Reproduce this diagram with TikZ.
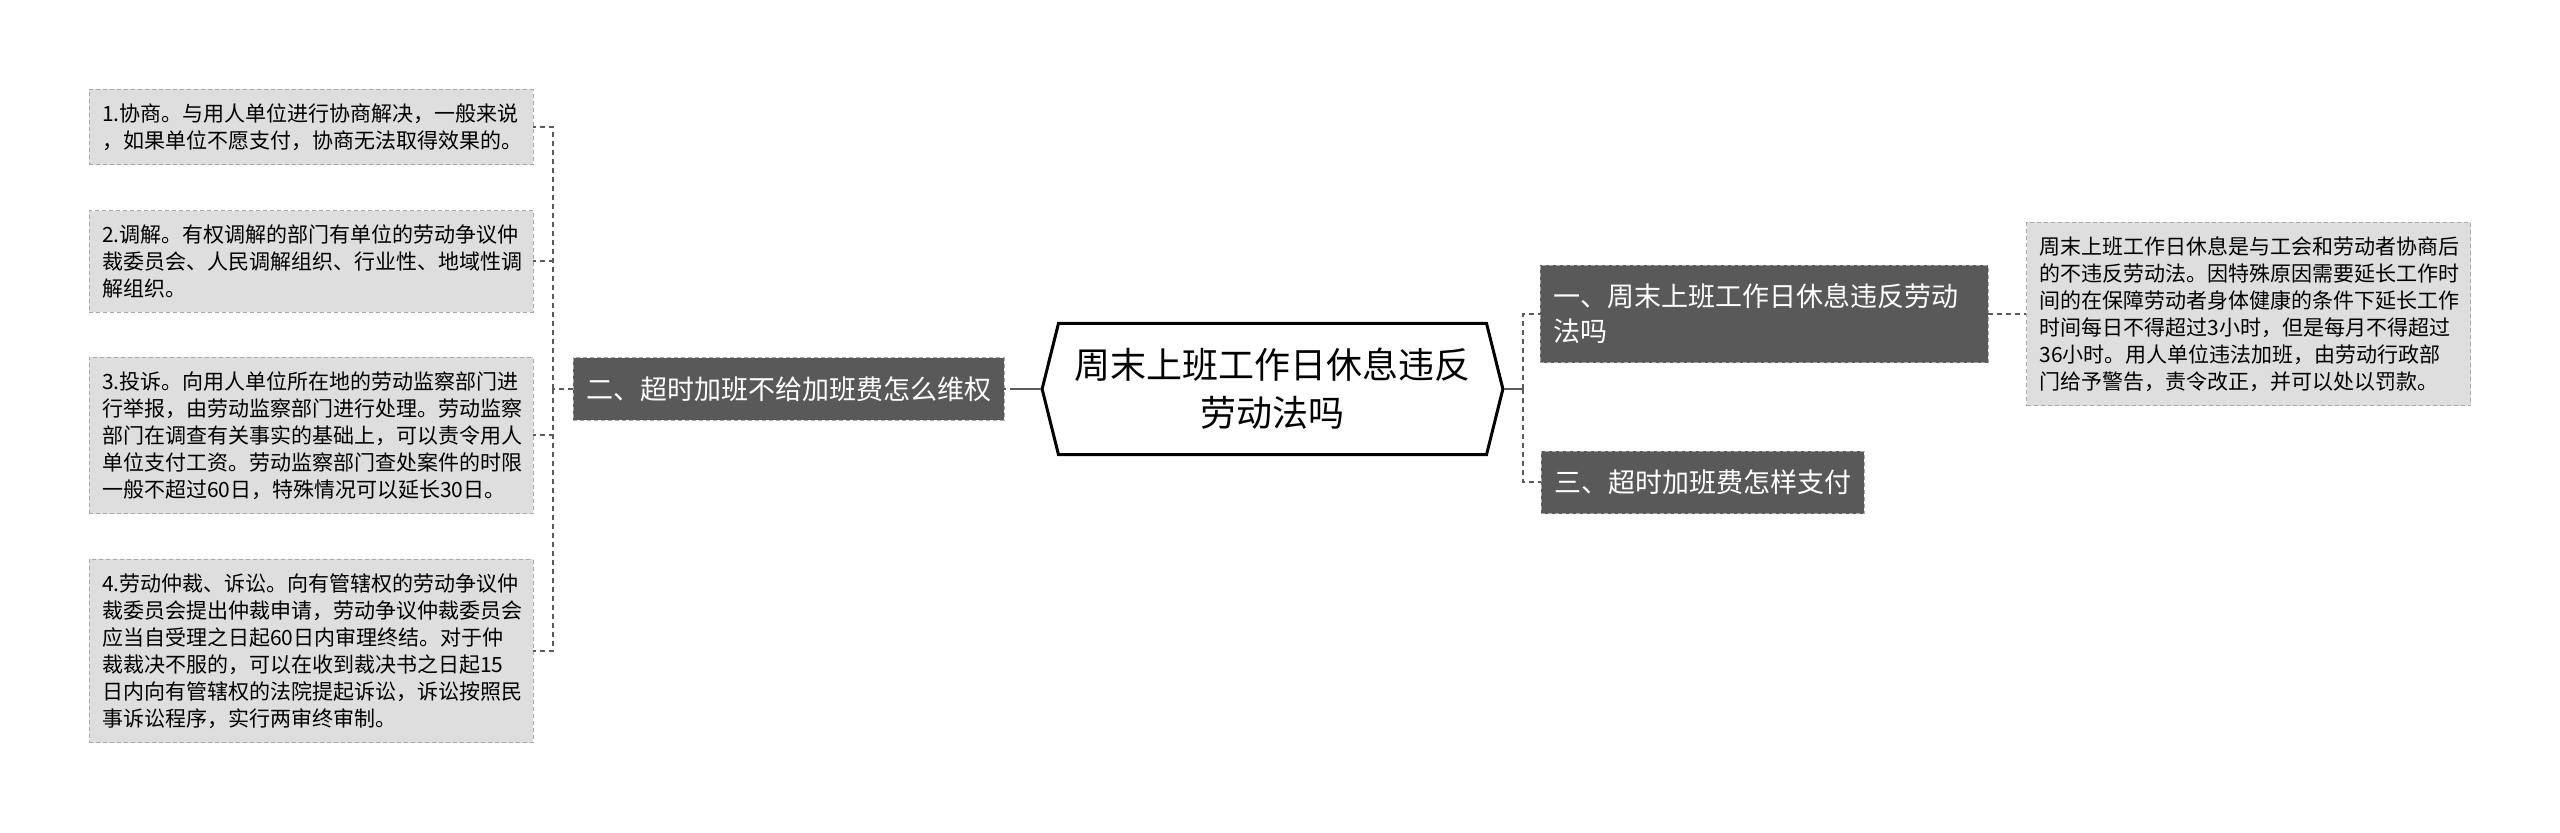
\documentclass[tikz,border=0pt]{standalone}
\usepackage{fontspec}
\setmainfont{Noto Sans CJK SC}
\usepackage{tikz}
\usetikzlibrary{shapes.symbols}
\definecolor{darkbox}{HTML}{595959}
\definecolor{leafbox}{HTML}{DEDEDE}
\definecolor{leafline}{HTML}{A8A8A8}
\definecolor{linkgray}{HTML}{5A5A5A}

\begin{document}
\begin{tikzpicture}[x=0.5pt, y=-0.5pt,
    root/.style = {draw=black, line width=1.5pt, fill=white, signal, signal to=west and east,
        signal pointer angle=152, align=center, inner xsep=8pt, inner ysep=12.5pt,
        font=\fontsize{18pt}{24pt}\selectfont},
    topic/.style = {draw=leafline, dashed, dash pattern=on 2pt off 1.5pt, fill=darkbox, text=white,
        align=left, inner xsep=6.5pt, inner ysep=9.3pt, font=\fontsize{13.5pt}{17.5pt}\selectfont},
    leaf/.style = {draw=leafline, dashed, dash pattern=on 2pt off 1.5pt, fill=leafbox, text=black,
        align=left, text width=209pt, inner xsep=6.5pt, inner ysep=7pt,
        font=\fontsize{10.5pt}{13.5pt}\selectfont},
    solidlink/.style = {draw=linkgray, line width=1pt},
    dashlink/.style = {draw=linkgray, line width=1pt, dash pattern=on 2.5pt off 2pt}]
    \useasboundingbox (0,0) rectangle (2560,833);

    \node[root] (R) at (1272.5,389) {周末上班工作日休息违反\\劳动法吗};

    \node[topic] (T2) at (788.5,389) {二、超时加班不给加班费怎么维权};
    \node[topic, text width=211pt] (T1) at (1764,314) {一、周末上班工作日休息违反劳动\\法吗};
    \node[topic] (T3) at (1702.5,482.5) {三、超时加班费怎样支付};

    \node[leaf] (L1) at (311,127) {1.协商。与用人单位进行协商解决，一般来说\\，如果单位不愿支付，协商无法取得效果的。};
    \node[leaf] (L2) at (311,261.5) {2.调解。有权调解的部门有单位的劳动争议仲\\裁委员会、人民调解组织、行业性、地域性调\\解组织。};
    \node[leaf] (L3) at (311,435.5) {3.投诉。向用人单位所在地的劳动监察部门进\\行举报，由劳动监察部门进行处理。劳动监察\\部门在调查有关事实的基础上，可以责令用人\\单位支付工资。劳动监察部门查处案件的时限\\一般不超过60日，特殊情况可以延长30日。};
    \node[leaf] (L4) at (311,651) {4.劳动仲裁、诉讼。向有管辖权的劳动争议仲\\裁委员会提出仲裁申请，劳动争议仲裁委员会\\应当自受理之日起60日内审理终结。对于仲\\裁裁决不服的，可以在收到裁决书之日起15\\日内向有管辖权的法院提起诉讼，诉讼按照民\\事诉讼程序，实行两审终审制。};
    \node[leaf] (D1) at (2248.5,314) {周末上班工作日休息是与工会和劳动者协商后\\的不违反劳动法。因特殊原因需要延长工作时\\间的在保障劳动者身体健康的条件下延长工作\\时间每日不得超过3小时，但是每月不得超过\\36小时。用人单位违法加班，由劳动行政部\\门给予警告，责令改正，并可以处以罚款。};

    % root to the two sides
    \draw[solidlink] (R.west) -- ++(-26,0) coordinate (lj);
    \draw[dashlink] (lj) -- (T2.east);
    \draw[solidlink] (R.east) -- ++(19,0) coordinate (rj);
    \draw[dashlink] (rj) |- (T1.west);
    \draw[dashlink] (rj) |- (T3.west);

    % left branch
    \draw[dashlink] (T2.west) -- ++(-20,0) coordinate (lb);
    \foreach \leafname in {L1,L2,L3,L4}
        \draw[dashlink] (lb) |- (\leafname.east);

    % right detail
    \draw[dashlink] (T1.east) -- (D1.west);
\end{tikzpicture}
\end{document}
